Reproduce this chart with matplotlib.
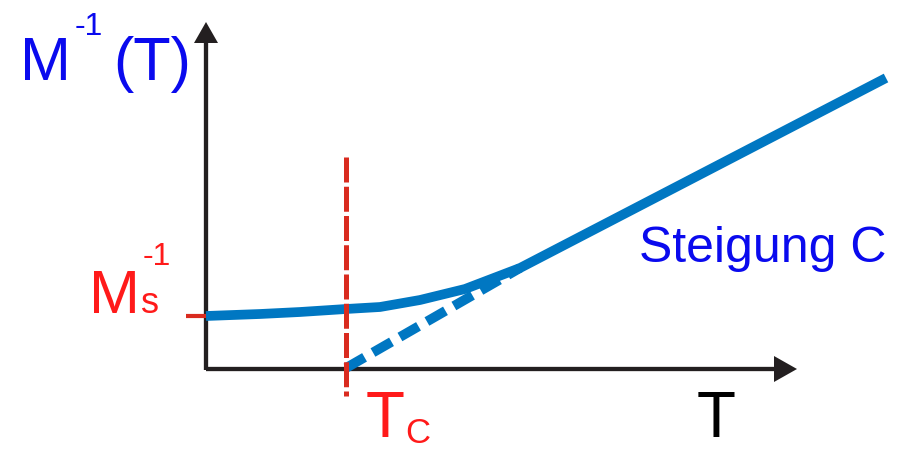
import matplotlib.pyplot as plt
import numpy as np

# schematic values (arbitrary units, origin at the axis corner)
T_curve = [0, 54, 94, 140, 174, 214, 259, 314, 680]
M_curve = [54, 56, 58, 61, 63, 70, 81, 102, 292]
T_dash = [140, 314]
M_dash = [2, 102]
T_c = 140
M_s = 54

blue_line = '#0077c2'
blue_text = '#0a0aee'
red_text = '#ff1a1a'
red_line = '#d92b1f'
black = '#231f20'

plt.rcParams['font.family'] = ['Liberation Sans', 'DejaVu Sans']

fig = plt.figure(figsize=(9.03, 4.49), dpi=100)
ax = fig.add_axes([0, 0, 1, 1])
ax.set_xlim(-206, 697)
ax.set_ylim(-79, 370)
ax.axis('off')

# axes with arrows
ax.plot([0, 570], [1, 1], color=black, lw=3.1, solid_capstyle='butt')
ax.plot([0, 0], [0, 330], color=black, lw=3.1, solid_capstyle='butt')
ax.fill([568, 591, 568], [-12, 1, 14], color=black, lw=0)
ax.fill([-12, 0, 12], [327, 348, 327], color=black, lw=0)

# curve and extrapolation
ax.plot(T_dash, M_dash, color=blue_line, lw=7, dashes=(2.2, 1.0))
ax.plot(T_curve, M_curve, color=blue_line, lw=7, solid_capstyle='butt')

# Tc marker (drawn from the top down)
ax.plot([T_c, T_c], [213, -26], color=red_line, lw=3.6, dashes=(5, 0.85), zorder=3)
ax.plot([-20, 0], [M_s, M_s], color=red_line, lw=3, solid_capstyle='butt')

ax.text(-186, 290, 'M', color=blue_text, fontsize=44)
ax.text(-131, 335, '-1', color=blue_text, fontsize=23)
ax.text(-93, 290, '(T)', color=blue_text, fontsize=44)

ax.text(-117, 57, 'M', color=red_text, fontsize=44)
ax.text(-65, 57, 's', color=red_text, fontsize=26)
ax.text(-63, 105, '-1', color=red_text, fontsize=23)

ax.text(160, -67, 'T', color=red_text, fontsize=46)
ax.text(199, -73, 'C', color=red_text, fontsize=25)

ax.text(491, -67, 'T', color='black', fontsize=46)
ax.text(433, 108, 'Steigung C', color=blue_text, fontsize=36)

fig.savefig('out.png', dpi=100)
